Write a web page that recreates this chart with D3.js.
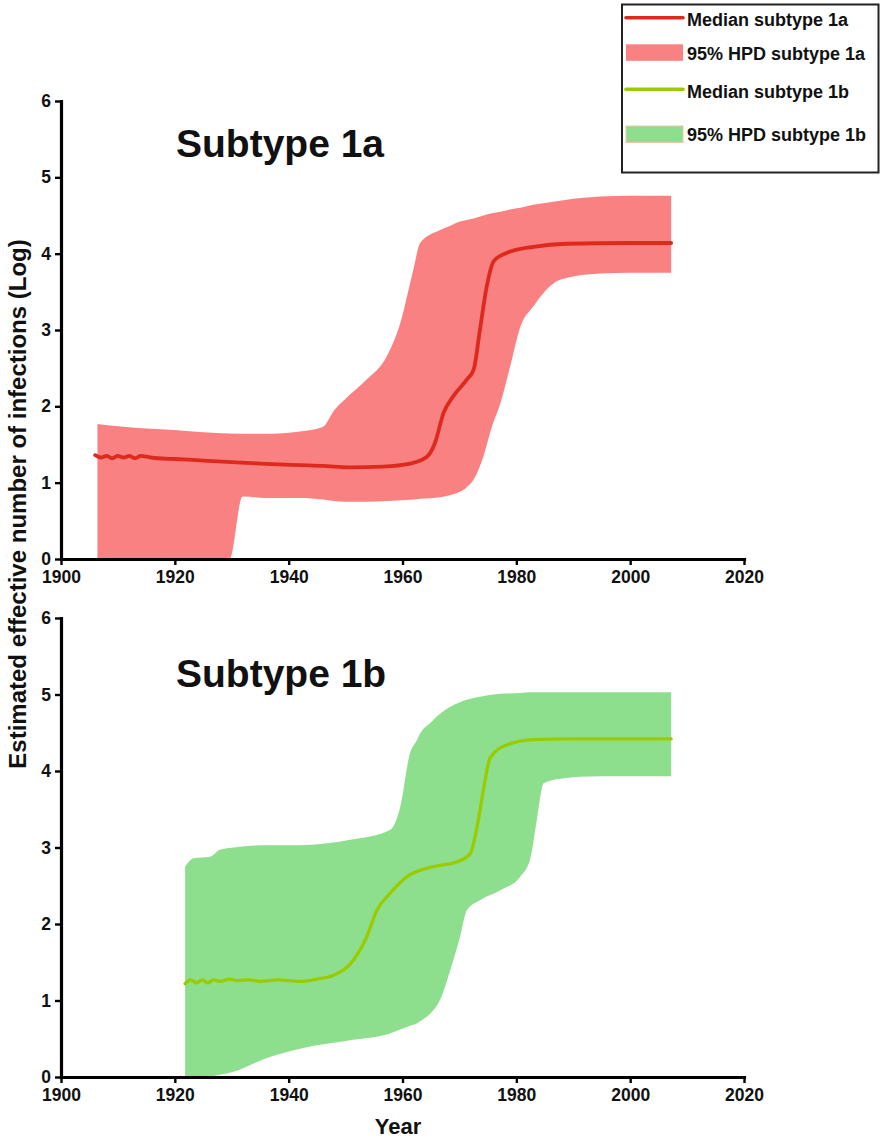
<!DOCTYPE html>
<html>
<head>
<meta charset="utf-8">
<script src="https://cdn.jsdelivr.net/npm/d3@7"></script>
<style>
  html, body { margin: 0; padding: 0; background: #fff; }
  svg { display: block; }
  text { font-family: "Liberation Sans", Arial, sans-serif; font-weight: bold; fill: #111; }
</style>
</head>
<body>
<svg id="chart" width="880" height="1140"></svg>
<script>
// ---------- Data ----------
const xTicks = [1900, 1920, 1940, 1960, 1980, 2000, 2020];
const yTicks = [0, 1, 2, 3, 4, 5, 6];

// Subtype 1a median
const medA_years = [1906, 1907, 1908, 1909, 1910, 1911, 1912, 1913, 1914, 1915, 1917, 1920, 1925, 1930, 1935, 1942, 1946, 1950.8, 1956.6, 1961.3, 1964.3, 1965.7, 1967.2, 1968.9, 1971.3, 1972.5, 1973.6, 1974.8, 1976, 1978.3, 1983, 1988.9, 2000, 2007.2];
const medA_vals  = [1.36, 1.33, 1.35, 1.32, 1.35, 1.33, 1.35, 1.32, 1.35, 1.34, 1.32, 1.31, 1.29, 1.27, 1.25, 1.23, 1.22, 1.20, 1.21, 1.25, 1.34, 1.52, 1.91, 2.13, 2.35, 2.48, 3.00, 3.57, 3.90, 4.01, 4.09, 4.13, 4.14, 4.14];

// Subtype 1a 95% HPD
const hpdA_years = [1906.4, 1910, 1915, 1920, 1925, 1929.6, 1931.9, 1936, 1942, 1946, 1948, 1950, 1953.7, 1957.2, 1959.6, 1961.9, 1963.1, 1966.6, 1968.5, 1970.1, 1971.3, 1972.5, 1974.2, 1975.7, 1977.2, 1978.9, 1980.7, 1983, 1986.5, 1990, 1994.7, 2000, 2007.2];
const hpdA_high  = [1.77, 1.74, 1.71, 1.69, 1.66, 1.645, 1.64, 1.64, 1.67, 1.73, 1.95, 2.10, 2.35, 2.65, 3.09, 3.79, 4.14, 4.31, 4.37, 4.42, 4.44, 4.46, 4.50, 4.53, 4.55, 4.58, 4.60, 4.64, 4.68, 4.72, 4.75, 4.76, 4.76];
const hpdA_low   = [0, 0, 0, 0, 0, 0, 0.82, 0.80, 0.80, 0.78, 0.76, 0.75, 0.75, 0.76, 0.77, 0.78, 0.79, 0.81, 0.84, 0.88, 0.94, 1.04, 1.34, 1.73, 2.04, 2.52, 3.04, 3.31, 3.61, 3.70, 3.74, 3.75, 3.75];

// Subtype 1b median
const medB_years = [1921.8, 1922.8, 1923.8, 1924.8, 1925.8, 1926.8, 1928, 1929.5, 1931, 1933, 1935, 1938, 1942, 1945, 1947.9, 1951.4, 1953.7, 1955.5, 1957.8, 1960.8, 1965.4, 1969.5, 1971.9, 1973.1, 1974.3, 1975.4, 1978.3, 1983, 1988.9, 2000, 2007.2];
const medB_vals  = [1.22, 1.27, 1.23, 1.27, 1.23, 1.27, 1.25, 1.28, 1.26, 1.27, 1.25, 1.27, 1.25, 1.28, 1.33, 1.53, 1.83, 2.18, 2.40, 2.62, 2.75, 2.81, 2.92, 3.27, 3.79, 4.17, 4.34, 4.41, 4.42, 4.42, 4.42];

// Subtype 1b 95% HPD
const hpdB_years = [1921.8, 1923.3, 1926.2, 1927.9, 1930.3, 1936.2, 1942, 1950.8, 1957.8, 1959.6, 1961.3, 1962.5, 1963.1, 1964.9, 1966.6, 1968.4, 1970.1, 1971.3, 1973.6, 1977.2, 1980.7, 1982.4, 1983.6, 1984.8, 1987.7, 1994.7, 2007.2];
const hpdB_high  = [2.75, 2.86, 2.88, 2.97, 3.00, 3.03, 3.03, 3.10, 3.23, 3.53, 4.23, 4.40, 4.49, 4.63, 4.75, 4.84, 4.90, 4.93, 4.97, 5.01, 5.02, 5.03, 5.03, 5.03, 5.03, 5.03, 5.03];
const hpdB_low   = [0, 0, 0.01, 0.03, 0.07, 0.25, 0.37, 0.48, 0.57, 0.62, 0.67, 0.70, 0.73, 0.83, 1.01, 1.40, 1.83, 2.18, 2.31, 2.44, 2.62, 2.84, 3.36, 3.84, 3.90, 3.93, 3.93];

const panelTitles = ["Subtype 1a", "Subtype 1b"];
const legendLabels = ["Median subtype 1a", "95% HPD subtype 1a", "Median subtype 1b", "95% HPD subtype 1b"];
const xAxisTitle = "Year";
const yAxisTitle = "Estimated effective number of infections (Log)";

// ---------- Styles ----------
const RED_LINE = "#dd2a1c", RED_BAND = "#f98181";
const GRN_LINE = "#9acb00", GRN_BAND = "#8ddf8d";

const svg = d3.select("#chart");

const x = d3.scaleLinear().domain([1900, 2020]).range([61, 744]);

const panels = [
  { top: 101, bottom: 559, title: panelTitles[0], titleY: 157,
    medYears: medA_years, medVals: medA_vals,
    hpdYears: hpdA_years, hpdHigh: hpdA_high, hpdLow: hpdA_low,
    line: RED_LINE, band: RED_BAND, lw: 3.8 },
  { top: 618, bottom: 1077, title: panelTitles[1], titleY: 687,
    medYears: medB_years, medVals: medB_vals,
    hpdYears: hpdB_years, hpdHigh: hpdB_high, hpdLow: hpdB_low,
    line: GRN_LINE, band: GRN_BAND, lw: 3.3 }
];

panels.forEach(p => {
  const y = d3.scaleLinear().domain([0, 6]).range([p.bottom, p.top]);
  const g = svg.append("g");

  // band
  const bandData = p.hpdYears.map((yr, i) => ({ yr, lo: p.hpdLow[i], hi: p.hpdHigh[i] }));
  g.append("path")
    .datum(bandData)
    .attr("fill", p.band)
    .attr("d", d3.area()
      .x(d => x(d.yr)).y0(d => y(d.lo)).y1(d => y(d.hi))
      .curve(d3.curveMonotoneX));

  // median
  const medData = p.medYears.map((yr, i) => ({ yr, v: p.medVals[i] }));
  g.append("path")
    .datum(medData)
    .attr("fill", "none")
    .attr("stroke", p.line)
    .attr("stroke-width", p.lw)
    .attr("stroke-linejoin", "round")
    .attr("stroke-linecap", "round")
    .attr("d", d3.line().x(d => x(d.yr)).y(d => y(d.v)).curve(d3.curveMonotoneX));

  // axes
  const xa = g.append("g").attr("transform", `translate(0,${p.bottom})`)
    .call(d3.axisBottom(x).tickValues(xTicks).tickFormat(d3.format("d")).tickSize(6).tickSizeOuter(0).tickPadding(6));
  const ya = g.append("g").attr("transform", `translate(${x(1900)},0)`)
    .call(d3.axisLeft(y).tickValues(yTicks).tickFormat(d3.format("d")).tickSize(6).tickSizeOuter(0).tickPadding(4));
  [xa, ya].forEach(a => {
    a.select(".domain").attr("stroke", "#000").attr("stroke-width", 3.2).attr("stroke-linecap", "square");
    a.selectAll(".tick line").attr("stroke", "#000").attr("stroke-width", 2.4);
    a.selectAll(".tick text").attr("fill", "#111")
      .style("font-family", '"Liberation Sans", Arial, sans-serif')
      .style("font-weight", "bold").style("font-size", "17.5px");
  });

  // panel title
  svg.append("text").attr("x", 176).attr("y", p.titleY)
    .style("font-size", "39px").text(p.title);
});

// x-axis title
svg.append("text").attr("x", 398).attr("y", 1134)
  .attr("text-anchor", "middle").style("font-size", "22px").text(xAxisTitle);

// y-axis title
svg.append("text").attr("transform", "translate(26,504) rotate(-90)")
  .attr("text-anchor", "middle").style("font-size", "24px").text(yAxisTitle);

// legend
const lg = svg.append("g");
lg.append("rect").attr("x", 622).attr("y", 4.5).attr("width", 256.5).attr("height", 168)
  .attr("fill", "#fff").attr("stroke", "#222").attr("stroke-width", 2);
const legendItems = [
  { type: "line", color: RED_LINE, y: 17.7, ty: 26 },
  { type: "rect", color: RED_BAND, y: 44.3, ty: 59.5 },
  { type: "line", color: GRN_LINE, y: 89.3, ty: 97.5 },
  { type: "rect", color: GRN_BAND, y: 126, ty: 141, stroke: "#e9c9a4" }
];
legendItems.forEach((it, i) => {
  if (it.type === "line") {
    lg.append("line").attr("x1", 626).attr("x2", 683).attr("y1", it.y).attr("y2", it.y)
      .attr("stroke", it.color).attr("stroke-width", 3.6).attr("stroke-linecap", "round");
  } else {
    lg.append("rect").attr("x", 626).attr("y", it.y).attr("width", 57).attr("height", 16.5)
      .attr("fill", it.color).attr("stroke", it.stroke || "none").attr("stroke-width", 1);
  }
  lg.append("text").attr("x", 687).attr("y", it.ty).style("font-size", "18px").text(legendLabels[i]);
});
</script>
</body>
</html>
